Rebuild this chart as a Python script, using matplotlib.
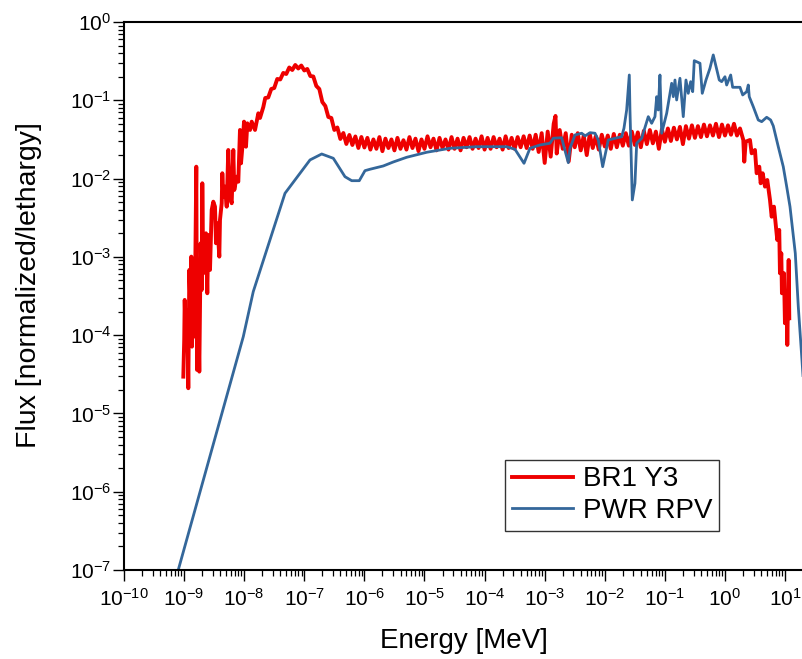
import numpy as np
import matplotlib
matplotlib.use("Agg")
import matplotlib.pyplot as plt
from matplotlib.ticker import LogLocator, NullFormatter, LogFormatterSciNotation

plt.rcParams["font.family"] = ["Liberation Sans", "DejaVu Sans"]
plt.rcParams["mathtext.fontset"] = "custom"
plt.rcParams["mathtext.rm"] = "Liberation Sans"
plt.rcParams["mathtext.it"] = "Liberation Sans:italic"
plt.rcParams["mathtext.bf"] = "Liberation Sans:bold"
plt.rcParams["mathtext.default"] = "regular"
plt.rcParams["axes.unicode_minus"] = False

# ---- BR1 Y3 spectrum: log10(E / MeV) and log10(flux per lethargy) ----
br1_log_energy = [
    # thermal tail (noisy)
    -9.013, -8.998, -8.990, -8.968, -8.947, -8.930, -8.913, -8.890, -8.880, -8.869,
    -8.847, -8.835, -8.819, -8.797, -8.785, -8.764, -8.747, -8.724, -8.707, -8.697,
    -8.681, -8.664, -8.636, -8.614, -8.597, -8.569, -8.541, -8.514, -8.486, -8.469,
    -8.448, -8.414, -8.403, -8.374, -8.364, -8.348, -8.319, -8.291, -8.265, -8.236,
    -8.208, -8.181, -8.165, -8.125, -8.098, -8.070, -8.053, -8.025, -8.003, -7.970,
    -7.948, -7.903, -7.875, -7.820, -7.765, -7.737, -7.682,
    # thermal peak
    -7.65, -7.60, -7.55, -7.50, -7.45, -7.40, -7.35, -7.30, -7.25, -7.20,
    -7.15, -7.10, -7.05, -7.00, -6.95, -6.90, -6.85, -6.80, -6.75, -6.70,
    -6.65, -6.60, -6.55, -6.50, -6.45, -6.40, -6.35, -6.30, -6.25, -6.20,
    -6.15, -6.10, -6.05, -6.00,
    # epithermal plateau
    -5.95, -5.90, -5.85, -5.80, -5.75, -5.70, -5.65, -5.60, -5.55, -5.50,
    -5.45, -5.40, -5.35, -5.30, -5.25, -5.20, -5.15, -5.10, -5.05, -5.00,
    -4.95, -4.90, -4.85, -4.80, -4.75, -4.70, -4.65, -4.60, -4.55, -4.50,
    -4.45, -4.40, -4.35, -4.30, -4.25, -4.20, -4.15, -4.10, -4.05, -4.00,
    -3.95, -3.90, -3.85, -3.80, -3.75, -3.70, -3.65, -3.60, -3.55, -3.50,
    -3.45, -3.40, -3.35, -3.30, -3.25,
    -3.20, -3.15, -3.10, -3.05, -3.00, -2.95, -2.90, -2.85, -2.82, -2.80,
    -2.75, -2.70, -2.65,
    -2.60, -2.55, -2.50, -2.45, -2.40, -2.35, -2.30, -2.25, -2.20, -2.15,
    -2.10, -2.05, -2.00, -1.95, -1.90, -1.85, -1.80, -1.75, -1.70,
    # fast range
    -1.65, -1.60, -1.55, -1.50, -1.45, -1.40, -1.35, -1.30, -1.25, -1.20,
    -1.15, -1.10, -1.05, -1.00, -0.95, -0.90, -0.85, -0.80, -0.75, -0.70,
    -0.65, -0.60, -0.55, -0.50, -0.45, -0.40, -0.35, -0.30, -0.25, -0.20,
    -0.15, -0.10, -0.05, 0.00, 0.05, 0.10, 0.15, 0.20, 0.25,
    # high-energy fall-off
    0.305, 0.321, 0.345, 0.416, 0.444, 0.499, 0.527, 0.571, 0.594, 0.627,
    0.666, 0.704, 0.749, 0.777, 0.815, 0.849, 0.870, 0.903, 0.915, 0.937,
    0.948, 0.982, 0.998, 1.027, 1.037, 1.060, 1.070,
]
br1_log_flux = [
    -4.530, -4.061, -3.550, -4.189, -3.678, -4.678, -3.167, -3.764, -2.997, -4.147,
    -3.210, -4.019, -3.508, -1.848, -4.444, -3.678, -4.466, -2.826, -3.423, -2.060,
    -3.210, -2.742, -2.699, -3.465, -2.720, -3.167, -2.401, -2.295, -2.359, -2.826,
    -2.571, -2.997, -2.529, -2.315, -1.932, -2.231, -2.103, -2.359, -1.635, -2.231,
    -2.315, -1.635, -2.146, -1.976, -2.040, -1.379, -1.805, -1.549, -1.273, -1.593,
    -1.294, -1.379, -1.273, -1.379, -1.166, -1.226, -1.086,
    -0.971, -0.964, -0.856, -0.843, -0.728, -0.734, -0.651, -0.664, -0.581, -0.613,
    -0.549, -0.594, -0.556, -0.619, -0.600, -0.690, -0.696, -0.817, -0.856, -1.022,
    -1.073, -1.213, -1.226, -1.379, -1.347, -1.494, -1.418, -1.558, -1.443, -1.571,
    -1.462, -1.609, -1.469, -1.603,
    -1.48, -1.63, -1.50, -1.62, -1.47, -1.65, -1.49, -1.61, -1.50, -1.64,
    -1.48, -1.62, -1.51, -1.63, -1.47, -1.61, -1.49, -1.65, -1.50, -1.62,
    -1.46, -1.60, -1.49, -1.64, -1.48, -1.61, -1.50, -1.63, -1.47, -1.62,
    -1.49, -1.64, -1.48, -1.60, -1.47, -1.62, -1.49, -1.61, -1.46, -1.63,
    -1.48, -1.62, -1.47, -1.60, -1.49, -1.63, -1.46, -1.61, -1.48, -1.62,
    -1.47, -1.60, -1.46, -1.61, -1.45,
    -1.62, -1.44, -1.66, -1.42, -1.80, -1.40, -1.72, -1.30, -1.20, -1.68,
    -1.38, -1.62, -1.42,
    -1.78, -1.44, -1.60, -1.42, -1.64, -1.45, -1.70, -1.43, -1.61, -1.46,
    -1.63, -1.44, -1.59, -1.45, -1.62, -1.43, -1.60, -1.44, -1.58,
    -1.42, -1.58, -1.40, -1.57, -1.41, -1.60, -1.39, -1.56, -1.38, -1.55,
    -1.40, -1.62, -1.37, -1.53, -1.36, -1.52, -1.35, -1.50, -1.34, -1.56,
    -1.33, -1.49, -1.32, -1.48, -1.33, -1.47, -1.31, -1.46, -1.32, -1.45,
    -1.30, -1.47, -1.31, -1.45, -1.32, -1.44, -1.30, -1.45, -1.36,
    -1.507, -1.784, -1.529, -1.507, -1.677, -1.635, -1.932, -1.848, -2.060, -1.932,
    -2.103, -2.018, -2.273, -2.487, -2.359, -2.614, -2.784, -2.656, -3.209, -2.954,
    -3.465, -3.209, -3.848, -3.550, -4.125, -3.040, -3.784,
]

# ---- PWR RPV spectrum ----
pwr_log_energy = [
    -9.097, -8.015, -7.849, -7.321, -6.905, -6.710, -6.517, -6.323, -6.211, -6.085,
    -5.990, -5.907, -5.686, -5.519, -5.296, -4.963, -4.576, -4.131, -3.632, -3.494,
    -3.344, -3.245, -3.078, -2.912, -2.857, -2.717, -2.679, -2.607, -2.579, -2.496,
    -2.384, -2.329, -2.246, -2.163, -2.108, -2.035, -1.942, -1.719, -1.681, -1.636,
    -1.592, -1.581, -1.542, -1.498, -1.469, -1.386, -1.276, -1.220, -1.165, -1.136,
    -1.110, -1.082, -1.053, -0.970, -0.887, -0.860, -0.832, -0.804, -0.749, -0.694,
    -0.649, -0.611, -0.571, -0.537, -0.511, -0.416, -0.378, -0.316, -0.250, -0.195,
    -0.128, -0.095, -0.055, 0.000, 0.028, 0.095, 0.128, 0.250, 0.295, 0.361,
    0.388, 0.404, 0.471, 0.554, 0.611, 0.694, 0.760, 0.804, 0.887, 0.970,
    1.027, 1.082, 1.170, 1.220, 1.281, 1.331,
]
pwr_log_flux = [
    -6.999, -4.019, -3.444, -2.188, -1.762, -1.686, -1.741, -1.976, -2.027, -2.027,
    -1.899, -1.881, -1.839, -1.788, -1.728, -1.664, -1.613, -1.593, -1.593, -1.626,
    -1.805, -1.613, -1.571, -1.549, -1.485, -1.478, -1.593, -1.797, -1.613, -1.443,
    -1.421, -1.456, -1.414, -1.421, -1.507, -1.848, -1.507, -1.465, -1.358, -1.124,
    -0.677, -1.124, -2.273, -2.060, -1.549, -1.485, -1.209, -1.294, -1.209, -0.954,
    -1.124, -0.677, -1.421, -1.166, -0.783, -0.954, -0.741, -0.996, -0.719, -1.209,
    -0.741, -0.911, -0.762, -0.890, -0.494, -0.527, -0.911, -0.741, -0.591, -0.421,
    -0.635, -0.741, -0.762, -0.699, -0.805, -0.677, -0.834, -0.834, -0.932, -0.890,
    -0.805, -0.954, -1.082, -1.252, -1.273, -1.217, -1.252, -1.328, -1.593, -1.848,
    -2.103, -2.359, -2.954, -3.636, -4.317, -4.891,
]

series_labels = ["BR1 Y3", "PWR RPV"]
series_colors = ["#EE0000", "#34679A"]

fig = plt.figure(figsize=(8.02, 6.59), dpi=100)
W, H = 802.0, 659.0
ax = fig.add_axes([124 / W, 1 - 570 / H, 679.1 / W, 548 / H])

ax.plot(10 ** np.array(br1_log_energy), 10 ** np.array(br1_log_flux),
        color=series_colors[0], lw=2.8, label=series_labels[0])
ax.plot(10 ** np.array(pwr_log_energy), 10 ** np.array(pwr_log_flux),
        color=series_colors[1], lw=2.0, label=series_labels[1])

ax.set_xscale("log")
ax.set_yscale("log")
ax.set_xlim(1e-10, 10 ** 1.3)
ax.set_ylim(1e-7, 1)

for axis in (ax.xaxis, ax.yaxis):
    axis.set_major_locator(LogLocator(base=10, numticks=30))
    axis.set_minor_locator(LogLocator(base=10, subs=np.arange(2, 10), numticks=30))
    axis.set_minor_formatter(NullFormatter())
    axis.set_major_formatter(LogFormatterSciNotation())

ax.tick_params(which="major", direction="out", length=8, width=1.0, labelsize=15,
               top=False, right=False)
ax.tick_params(which="minor", direction="out", length=4.5, width=0.9,
               top=False, right=False)
ax.tick_params(axis="y", which="major", pad=1)
ax.tick_params(axis="x", which="major", pad=5)

for side in ("left", "bottom", "top"):
    ax.spines[side].set_linewidth(1.5)
ax.spines["right"].set_visible(False)

ax.set_xlabel("Energy [MeV]", fontsize=20, labelpad=13)
ax.set_ylabel("Flux [normalized/lethargy]", fontsize=20.5)
ax.yaxis.set_label_coords(-0.121, 0.52)

leg = ax.legend(loc="lower left", bbox_to_anchor=(505 / W, 1 - 531 / H),
                bbox_transform=fig.transFigure, borderaxespad=0, fontsize=20,
                fancybox=False, framealpha=1, edgecolor="#333333",
                handlelength=2.2, handletextpad=0.35, borderpad=0.25,
                labelspacing=0.2)
leg.get_frame().set_linewidth(1.0)

fig.savefig("out.png", dpi=100)
